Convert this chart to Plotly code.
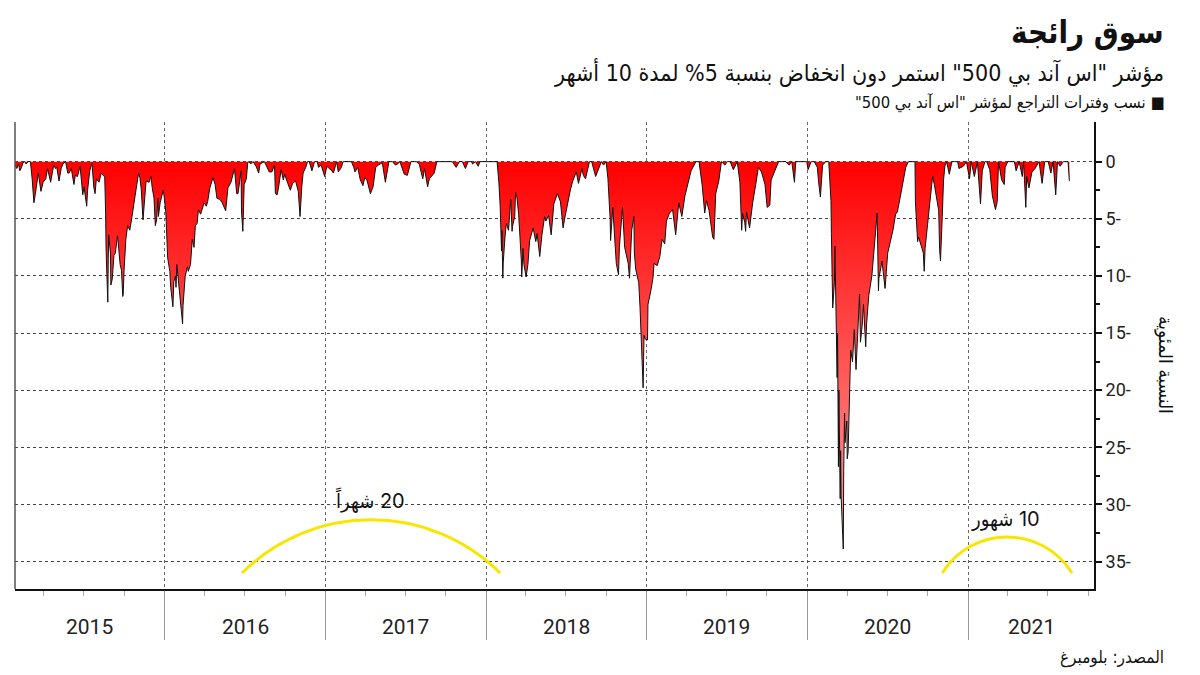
import plotly.graph_objects as go
import datetime as dt

# ---------------- data (S&P 500 drawdown from running high, %) ----------------
m2015 = ["01-26","01-30","02-03","02-06","02-10","02-13","02-17","02-20","02-25","03-02","03-06","03-10","03-13","03-18","03-20","03-26","03-31","04-06","04-10","04-17","04-24","04-28","05-01","05-06","05-11","05-15","05-21","05-26","05-29","06-03","06-09","06-12","06-17","06-23","06-29","07-02","07-08","07-10","07-15","07-20","07-24","07-27","07-30","08-05","08-10","08-14","08-18","08-20","08-21","08-24","08-25","08-26","08-27","08-31","09-01","09-04","09-08","09-11","09-16","09-17","09-22","09-25","09-28","09-29","10-01","10-05","10-09","10-14","10-19","10-22","10-26","10-30","11-03","11-06","11-09","11-13","11-17","11-20","11-27","12-01","12-04","12-08","12-11","12-14","12-17","12-18","12-22","12-29","12-31"]
v2015 = [0.3,0.6,0.2,0.8,0.5,0.1,0.0,0.2,0.0,0.0,1.5,3.6,2.9,1.2,1.0,2.6,1.8,1.5,0.6,1.8,0.3,0.6,0.5,1.7,0.6,0.2,0.0,1.0,1.0,0.6,2.0,1.2,1.3,0.4,2.9,2.2,3.9,2.5,0.8,0.1,2.2,2.8,1.5,1.8,1.0,1.2,1.3,4.5,7.6,11.2,12.3,8.5,6.4,8.0,10.8,10.3,8.2,8.0,6.5,6.8,9.0,9.5,11.8,11.6,9.5,6.8,5.6,6.0,4.8,3.8,3.0,2.0,1.0,1.4,2.4,5.1,2.6,1.7,1.8,1.3,2.3,3.2,5.6,5.1,3.2,4.8,3.6,2.5,3.0]

m2016 = ["01-04","01-07","01-08","01-13","01-15","01-20","01-22","01-26","01-27","01-29","02-02","02-05","02-08","02-11","02-12","02-17","02-22","02-24","02-29","03-04","03-08","03-11","03-15","03-18","03-23","03-31","04-05","04-08","04-13","04-20","04-25","04-29","05-06","05-11","05-19","05-24","05-31","06-08","06-13","06-16","06-23","06-24","06-27","06-30","07-05","07-08","07-11","07-15","07-20","07-27","08-02","08-05","08-15","08-19","08-26","09-01","09-07","09-09","09-13","09-16","09-22","09-27","09-30","10-07","10-13","10-18","10-25","10-31","11-04","11-08","11-11","11-17","11-21","11-25","12-01","12-07","12-13","12-16","12-22","12-30"]
v2016 = [4.5,7.4,8.4,9.6,11.0,12.7,10.5,10.0,11.0,9.0,10.5,11.8,12.7,14.2,12.6,10.0,9.2,9.6,9.0,6.8,7.5,5.6,5.4,4.2,4.6,3.6,3.9,3.5,2.3,1.4,2.0,3.2,3.3,3.6,4.3,2.3,1.8,0.6,2.8,2.8,0.8,4.4,6.1,2.0,1.5,0.1,0.0,0.2,0.0,0.4,1.0,0.2,0.0,0.3,0.9,0.9,0.3,2.8,2.9,2.3,0.7,1.6,1.1,1.9,2.5,1.9,1.7,2.6,4.8,2.2,1.0,0.5,0.0,0.0,0.8,0.0,0.0,0.5,0.3,1.3]

m2017 = ["01-04","01-09","01-13","01-19","01-26","01-30","02-06","02-10","02-17","02-24","03-01","03-06","03-09","03-15","03-21","03-27","03-31","04-05","04-13","04-19","04-25","05-01","05-10","05-17","05-25","06-02","06-09","06-14","06-19","06-29","07-06","07-14","07-26","08-02","08-10","08-14","08-18","08-21","08-25","08-29","09-05","09-11","09-20","10-02","10-09","10-16","10-25","11-01","11-08","11-15","11-21","11-29","12-01","12-08","12-14","12-18","12-27"]
v2017 = [0.4,0.6,0.7,1.0,0.0,0.9,0.5,0.0,0.0,0.0,0.0,0.5,0.9,0.5,1.6,2.1,1.4,1.6,2.8,2.2,0.5,0.3,0.1,1.8,0.0,0.0,0.3,0.2,0.0,1.1,1.2,0.0,0.0,0.2,1.5,0.6,1.8,2.2,1.5,1.3,1.0,0.0,0.0,0.0,0.0,0.0,0.5,0.0,0.0,0.6,0.0,0.0,0.2,0.0,0.4,0.0,0.0]

m2018 = ["01-05","01-12","01-19","01-26","01-30","02-02","02-05","02-06","02-08","02-09","02-13","02-16","02-21","02-26","03-01","03-02","03-07","03-09","03-12","03-16","03-22","03-23","03-26","03-28","04-02","04-06","04-10","04-18","04-24","04-27","05-03","05-08","05-14","05-17","05-23","05-29","06-04","06-12","06-19","06-25","06-28","07-06","07-12","07-17","07-25","07-30","08-07","08-10","08-15","08-24","08-29","09-07","09-12","09-20","09-25","10-01","10-05","10-10","10-11","10-16","10-24","10-29","10-31","11-07","11-12","11-20","11-23","11-28","12-03","12-04","12-07","12-14","12-17","12-20","12-24","12-26","12-28"]
v2018 = [0.0,0.0,0.0,0.0,1.8,3.9,7.8,6.0,10.2,8.8,6.6,5.4,6.0,3.3,6.1,5.7,4.8,2.7,3.1,4.6,8.6,10.1,7.6,9.0,10.1,9.0,6.9,5.8,7.0,6.3,8.3,6.4,4.8,5.2,4.7,6.4,3.7,2.8,3.5,5.8,5.1,3.5,2.4,1.7,0.9,1.9,0.6,1.2,1.5,0.0,0.0,1.3,0.8,0.0,0.3,0.0,1.5,5.0,6.9,4.0,8.9,9.9,7.5,4.0,7.5,8.9,10.2,6.0,4.8,7.9,9.4,10.6,12.8,15.8,19.8,15.2,15.5]

m2019 = ["01-03","01-04","01-10","01-15","01-18","01-25","01-31","02-05","02-11","02-15","02-22","03-01","03-08","03-15","03-22","03-29","04-05","04-12","04-23","04-30","05-07","05-13","05-17","05-23","05-31","06-03","06-07","06-14","06-20","06-28","07-03","07-10","07-17","07-26","08-01","08-05","08-07","08-12","08-14","08-16","08-23","08-26","08-30","09-06","09-12","09-19","09-24","09-27","10-02","10-08","10-11","10-18","10-28","11-05","11-13","11-21","11-27","12-03","12-06","12-13","12-20","12-31"]
v2019 = [15.6,12.5,11.4,10.3,8.9,9.1,8.3,6.8,7.2,5.2,4.5,4.2,6.4,3.6,4.8,3.0,1.9,0.8,0.0,0.0,2.0,4.5,3.4,4.3,6.6,6.8,2.8,1.7,0.0,0.3,0.0,0.0,0.7,0.0,1.8,6.0,4.5,5.3,6.1,4.4,5.8,4.7,3.6,2.0,0.5,0.9,1.5,2.0,4.0,3.8,1.6,1.0,0.0,0.0,0.0,0.3,0.0,1.8,0.0,0.0,0.0,0.0]

m2020 = ["01-03","01-10","01-17","01-24","01-27","01-31","02-05","02-12","02-19","02-24","02-25","02-27","02-28","03-03","03-04","03-09","03-10","03-12","03-13","03-16","03-17","03-18","03-20","03-23","03-24","03-26","03-27","03-31","04-01","04-03","04-08","04-09","04-13","04-17","04-21","04-24","04-29","05-01","05-05","05-08","05-13","05-15","05-20","05-27","06-03","06-08","06-11","06-12","06-15","06-19","06-26","07-02","07-08","07-14","07-20","07-24","07-31","08-05","08-12","08-18","08-25","09-02","09-03","09-08","09-10","09-11","09-18","09-21","09-23","09-25","10-02","10-07","10-12","10-16","10-21","10-26","10-28","10-30","11-03","11-06","11-09","11-13","11-19","11-25","12-01","12-08","12-11","12-21","12-28"]
v2020 = [0.7,0.0,0.0,0.5,1.8,3.1,0.3,0.0,0.0,3.4,6.3,12.0,12.8,10.5,7.4,18.9,15.0,26.7,20.0,29.5,25.3,29.2,31.9,33.9,27.0,22.0,24.6,22.7,26.0,25.4,17.8,16.5,17.5,14.7,18.2,16.0,11.6,15.8,14.3,12.5,16.2,14.2,11.7,10.0,7.0,4.5,11.3,10.2,9.6,8.7,11.1,8.0,7.0,6.0,4.6,4.4,3.0,2.0,0.5,0.0,0.0,0.0,3.5,7.0,6.6,6.7,7.6,8.0,9.6,7.6,5.0,3.0,1.3,2.0,3.2,4.3,7.7,8.7,4.8,1.6,0.4,0.0,1.1,0.0,0.0,0.0,0.6,0.4,0.0]

m2021 = ["01-04","01-08","01-12","01-15","01-22","01-27","01-29","02-02","02-08","02-12","02-19","02-25","03-04","03-08","03-11","03-18","03-24","03-26","04-01","04-09","04-16","04-20","04-27","05-04","05-07","05-12","05-14","05-19","05-26","06-02","06-07","06-11","06-18","06-24","07-02","07-08","07-13","07-19","07-23","07-29","08-05","08-12","08-16","08-19"]
v2021 = [1.5,0.0,0.7,1.3,0.0,2.7,3.7,0.8,0.0,0.0,0.7,3.0,4.2,3.5,0.0,1.6,2.0,0.5,0.0,0.0,0.0,0.8,0.0,1.3,0.0,4.0,1.3,2.3,0.9,0.6,0.3,0.0,1.9,0.0,0.0,1.0,0.0,2.9,0.0,0.4,0.0,0.0,0.0,1.7]

years = [2015, 2016, 2017, 2018, 2019, 2020, 2021]
year_labels = ["2015", "2016", "2017", "2018", "2019", "2020", "2021"]
ytick_vals = [0, 5, 10, 15, 20, 25, 30, 35]
ytick_text = ["0", "5-", "10-", "15-", "20-", "25-", "30-", "35-"]

title_text = "سوق رائجة"
subtitle_text = "مؤشر \"اس آند بي 500\" استمر دون انخفاض بنسبة 5% لمدة 10 أشهر"
legend_text = "نسب وفترات التراجع لمؤشر \"اس آند بي 500\""
ytitle_text = "النسبة المئوية"
source_text = "المصدر: بلومبرغ"
arc_labels = ["20 شهراً", "10 شهور"]

# ---------------- assemble ----------------
month_lists = [m2015, m2016, m2017, m2018, m2019, m2020, m2021]
value_lists = [v2015, v2016, v2017, v2018, v2019, v2020, v2021]
dates, values = [], []
for yr, ms, vs in zip(years, month_lists, value_lists):
    dates += [f"{yr}-{m}" for m in ms]
    values += vs

X_RANGE = ["2015-01-26", "2021-10-14"]
Y_RANGE = [37.4, -3.47]

# page body has an 8px margin; margins below are in figure coordinates
W, H = 1200, 675
L, T = 7, 114
R = W - 1086
B = H - 581
PW, PH = W - L - R, H - T - B
OFF = 8


def px(x):  # screen x -> paper
    return (x - OFF - L) / PW


def py(y):  # screen y -> paper
    return (H - B - (y - OFF)) / PH


RLM = "\u200f"
AR_FONT = "DejaVu Sans Condensed, DejaVu Sans, sans-serif"

fig = go.Figure()
fig.add_trace(go.Scatter(
    x=dates, y=values, mode="lines",
    line=dict(color="#111111", width=1),
    fill="tozeroy",
    fillgradient=dict(type="vertical",
                      colorscale=[[0, "#ff0000"], [1, "#ffa3a3"]],
                      start=0, stop=34),
    hoverinfo="skip", showlegend=False,
))


def d(s):
    return dt.date.fromisoformat(s)


x0, x1 = d(X_RANGE[0]), d(X_RANGE[1])
annotations = []
for yr, lab in zip(years, year_labels):
    a = max(x0, dt.date(yr, 1, 1))
    b = min(x1, dt.date(yr + 1, 1, 1))
    mid = a + (b - a) / 2
    annotations.append(dict(x=mid.isoformat(), y=py(627), xref="x", yref="paper",
                            text=lab, showarrow=False, xanchor="center", yanchor="middle",
                            font=dict(family="Liberation Sans Narrow, Roboto, sans-serif", size=21, color="#222")))

annotations += [
    dict(x=px(1166), y=py(33), xref="paper", yref="paper", text="<b>" + title_text + "</b>",
         showarrow=False, xanchor="right", yanchor="middle",
         font=dict(family=AR_FONT, size=31, color="#111")),
    dict(x=px(1166), y=py(72), xref="paper", yref="paper", text=RLM + subtitle_text + RLM,
         showarrow=False, xanchor="right", yanchor="middle",
         font=dict(family=AR_FONT, size=23, color="#111")),
    dict(x=px(1166), y=py(103), xref="paper", yref="paper", text=RLM + "■ " + legend_text + RLM,
         showarrow=False, xanchor="right", yanchor="middle",
         font=dict(family=AR_FONT, size=16.5, color="#111")),
    dict(x=px(1166), y=py(657), xref="paper", yref="paper", text=RLM + source_text + RLM,
         showarrow=False, xanchor="right", yanchor="middle",
         font=dict(family=AR_FONT, size=17, color="#111")),
    dict(x=px(1166), y=py(365), xref="paper", yref="paper", text=ytitle_text,
         showarrow=False, textangle=90, xanchor="center", yanchor="middle",
         font=dict(family=AR_FONT, size=19, color="#111")),
    dict(x="2017-04-12", y=29.6, xref="x", yref="y", text=RLM + arc_labels[0] + RLM,
         showarrow=False, xanchor="center", yanchor="middle",
         font=dict(family="Inter, " + AR_FONT, size=20, color="#111")),
    dict(x="2021-03-26", y=31.3, xref="x", yref="y", text=RLM + arc_labels[1] + RLM,
         showarrow=False, xanchor="center", yanchor="middle",
         font=dict(family="Inter, " + AR_FONT, size=20, color="#111")),
]

shapes = [
    dict(type="line", xref="paper", yref="paper", x0=0, x1=0, y0=0, y1=1,
         line=dict(color="#555", width=1.5)),
    dict(type="path", xref="x", yref="y",
         path="M 2016-06-25,36.0 C 2016-12-05,29.8 2017-08-23,29.8 2018-02-02,36.0",
         line=dict(color="#f7e600", width=3)),
    dict(type="path", xref="x", yref="y",
         path="M 2020-11-03,36.0 C 2021-01-10,31.8 2021-06-18,31.8 2021-08-25,36.0",
         line=dict(color="#f7e600", width=3)),
]

fig.update_layout(
    width=W, height=H,
    margin=dict(l=L, r=R, t=T, b=B),
    paper_bgcolor="white", plot_bgcolor="white",
    annotations=annotations, shapes=shapes,
    showlegend=False,
    xaxis=dict(
        type="date", range=X_RANGE,
        tick0="2016-01-01", dtick="M12",
        showgrid=True, gridcolor="#666", griddash="dot", gridwidth=1,
        ticks="outside", ticklen=49, tickcolor="#999", tickwidth=1,
        showticklabels=False,
        showline=True, linecolor="#111", linewidth=2,
        zeroline=False,
        minor=dict(dtick="M3", tick0="2016-01-01", ticks="outside", ticklen=5,
                   tickcolor="#aaa", showgrid=False),
    ),
    yaxis=dict(
        side="right", range=Y_RANGE,
        tickvals=ytick_vals, ticktext=ytick_text,
        showgrid=True, gridcolor="#444", griddash="dot", gridwidth=1,
        ticks="outside", ticklen=6, tickwidth=2, tickcolor="#111",
        showline=True, linecolor="#111", linewidth=2,
        zeroline=False,
        tickfont=dict(family="Roboto, Liberation Sans, sans-serif", size=18, color="#222"),
        minor=dict(tickvals=[2.5, 7.5, 12.5, 17.5, 22.5, 27.5, 32.5], ticks="outside",
                   ticklen=4, tickcolor="#111", showgrid=False),
    ),
)

fig.write_html("out.html")
